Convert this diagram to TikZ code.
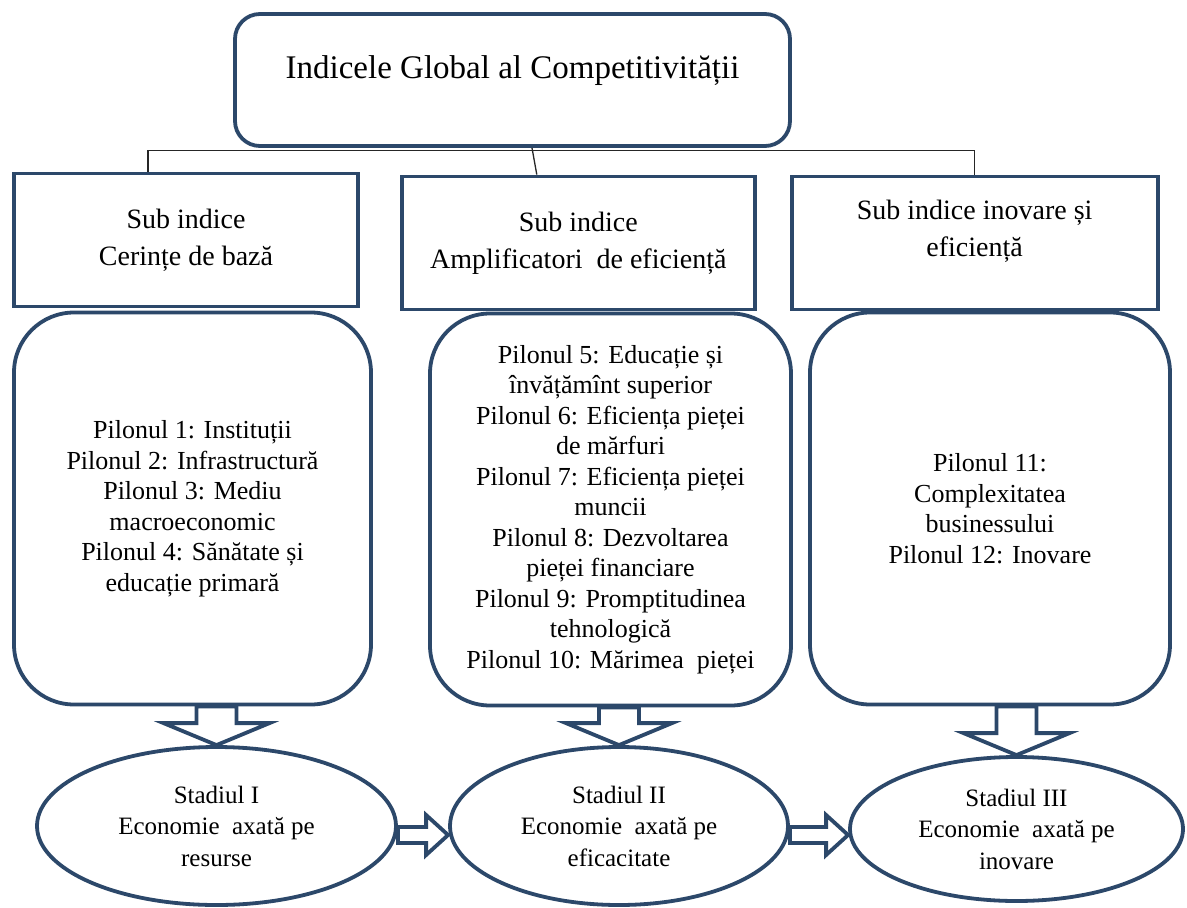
\documentclass[tikz,border=0pt]{standalone}
\usepackage{fontspec}
\setmainfont{Liberation Serif}
\usetikzlibrary{shapes.geometric, positioning, calc}
\definecolor{framenavy}{RGB}{44,72,106}

\begin{document}
\begin{tikzpicture}[
	x=1pt, y=-1pt,
	every node/.style={align=center, inner sep=0pt},
	index/.style={rectangle, rounded corners=25pt, draw=framenavy, line width=3.8pt, minimum width=555pt, minimum height=132pt, font=\fontsize{33}{38}\selectfont, text height=23pt, text depth=27pt},
	subindex/.style={rectangle, draw=framenavy, line width=3.8pt, minimum height=133pt, font=\fontsize{28}{37}\selectfont},
	pillar/.style={rectangle, rounded corners=60pt, draw=framenavy, line width=3.8pt, minimum height=392pt, font=\fontsize{26}{30.5}\selectfont},
	stage/.style={ellipse, draw=framenavy, line width=3.8pt, font=\fontsize{25}{31.5}\selectfont},
	link/.style={line width=1.3pt, black!85},
	blockarrow/.style={draw=framenavy, line width=3.8pt, fill=white, line join=miter}
	]
	
	\fill[white] (0,0) rectangle (1187,908);
	\useasboundingbox (0,0) rectangle (1187,908);
	
	% Nodes
	\node[index] (gci) at (512.5,80) {Indicele Global al Competitivității};
	
	\node[subindex, minimum width=344pt] (sub1) at (186,240) {Sub indice\\Cerințe de bază};
	\node[subindex, minimum width=353pt, right=40pt of sub1, yshift=-3pt] (sub2) {Sub indice\\Amplificatori\ \ de eficiență};
	\node[subindex, minimum width=366pt, right=33pt of sub2, text depth=29pt] (sub3) {Sub indice inovare și\\eficiență};
	
	\node[pillar, minimum width=357pt] (pil1) at (192.5,508.5) {Pilonul 1: Instituții\\Pilonul 2: Infrastructură\\Pilonul 3: Mediu\\macroeconomic\\Pilonul 4: Sănătate și\\educație primară};
	\node[pillar, minimum width=361pt] (pil2) at (610.5,509.5) {Pilonul 5: Educație și\\învățămînt superior\\Pilonul 6: Eficiența pieței\\de mărfuri\\Pilonul 7: Eficiența pieței\\muncii\\Pilonul 8: Dezvoltarea\\pieței financiare\\Pilonul 9: Promptitudinea\\tehnologică\\Pilonul 10: Mărimea\ \ pieței};
	\node[pillar, minimum width=360pt] (pil3) at (990,508.5) {Pilonul 11:\\Complexitatea\\businessului\\Pilonul 12: Inovare};
	
	\node[stage, minimum width=359pt, minimum height=158pt] (st1) at (216.5,826) {Stadiul I\\Economie\ \ axată pe\\resurse};
	\node[stage, minimum width=338pt, minimum height=158pt] (st2) at (619,826) {Stadiul II\\Economie\ \ axată pe\\eficacitate};
	\node[stage, minimum width=333pt, minimum height=144pt] (st3) at (1016.5,829) {Stadiul III\\Economie\ \ axată pe\\inovare};
	
	% Connectors
	\draw[link] ([xshift=19.5pt]gci.south) -- ([xshift=-41.5pt]sub2.north);
	\draw[link] ([xshift=-38pt]sub1.north) -- ++(0,-21) -| (sub3.north);
	
	% Arrows down
	\draw[blockarrow] (st1.north) -- ++(-53,-22) -- ++(33,0) -- ($(st1.north |- pil1.south)+(-20,0)$) -- ++(40,0) -- ($(st1.north)+(20,-22)$) -- ++(33,0) -- cycle;
	\draw[blockarrow] (st2.north) -- ++(-53,-22) -- ++(33,0) -- ($(st2.north |- pil2.south)+(-20,0)$) -- ++(40,0) -- ($(st2.north)+(20,-22)$) -- ++(33,0) -- cycle;
	\draw[blockarrow] (st3.north) -- ++(-53,-22) -- ++(33,0) -- ($(st3.north |- pil3.south)+(-20,0)$) -- ++(40,0) -- ($(st3.north)+(20,-22)$) -- ++(33,0) -- cycle;
	
	% Arrows right
	\draw[blockarrow] ($(st1.east)+(0,1)$) -- ($(st2.west |- st1.east)+(-22,1)$) -- ++(0,-12) -- ($(st2.west |- st1.east)+(0,9)$) -- ++(-22,20) -- ++(0,-12) -- ($(st1.east)+(0,17)$) -- cycle;
	\draw[blockarrow] ($(st2.east)+(0,1)$) -- ($(st3.west |- st2.east)+(-22,1)$) -- ++(0,-12) -- ($(st3.west |- st2.east)+(0,9)$) -- ++(-22,20) -- ++(0,-12) -- ($(st2.east)+(0,17)$) -- cycle;
\end{tikzpicture}
\end{document}
